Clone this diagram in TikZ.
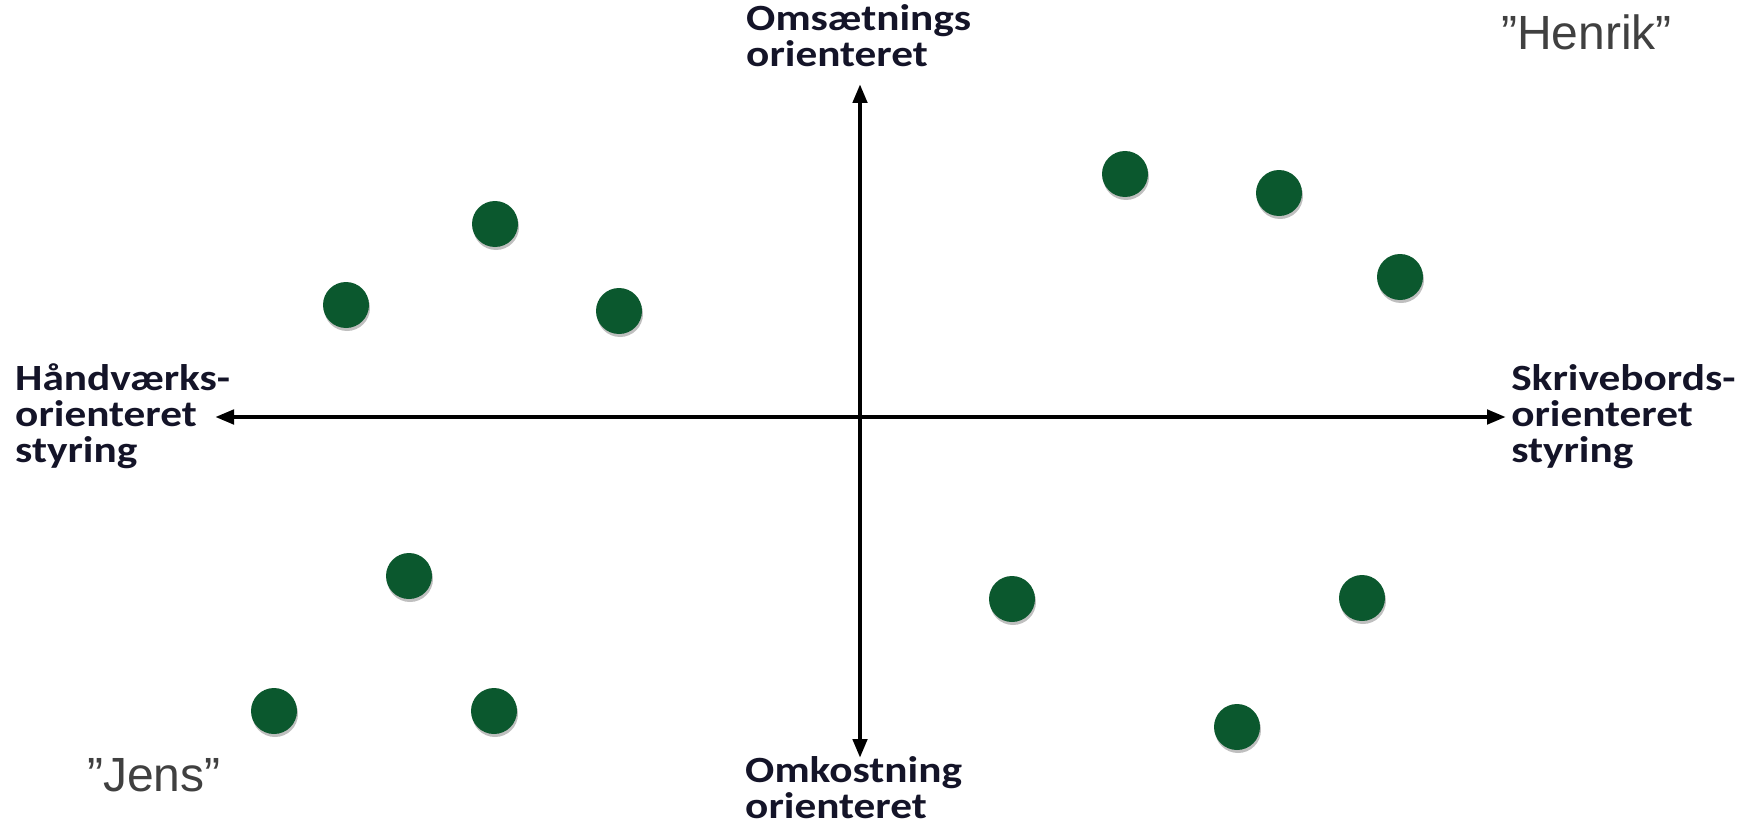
\documentclass[tikz,border=0pt]{standalone}
\usepackage{fontspec}
\setmainfont{Carlito}
\newfontfamily\arialfont{Liberation Sans}
\usetikzlibrary{arrows.meta,shadows}
\definecolor{dotgreen}{RGB}{11,88,46}
\definecolor{labelink}{RGB}{20,20,40}
\definecolor{quotegray}{RGB}{64,64,64}
\begin{document}
\begin{tikzpicture}[x=1pt,y=-1pt,
  axis/.style={line width=4.5pt, -{Triangle[width=14pt,length=19pt]}},
  dotnode/.style={circle, fill=dotgreen, minimum size=46pt, inner sep=0pt,
     drop shadow={shadow xshift=1pt, shadow yshift=-3pt, opacity=0.25, fill=black}},
  axlabel/.style={inner sep=0pt, align=left, text=labelink,
     font=\fontsize{37}{36}\selectfont\bfseries, xscale=1.17},
  quote/.style={inner sep=0pt, text=quotegray, font=\arialfont\fontsize{48}{52}\selectfont}]
\useasboundingbox[fill=white] (0,0) rectangle (1756,824);
\coordinate (c) at (860,417);
\coordinate (top) at (860,84);
\coordinate (bot) at (860,758);
\coordinate (lft) at (215,417);
\coordinate (rgt) at (1506,417);
\draw[axis] (c) -- (top);
\draw[axis] (c) -- (bot);
\draw[axis] (c) -- (lft);
\draw[axis] (c) -- (rgt);
\node[axlabel, anchor=base west] (ltop) at (746,67) {Omsætnings\\orienteret};
\node[axlabel, anchor=base west] (lbot) at (745,818) {Omkostning\\orienteret};
\node[axlabel, anchor=base west] (lleft) at (15,462) {Håndværks-\\orienteret\\styring};
\node[axlabel, anchor=base west] (lright) at (1511,462) {Skrivebords-\\orienteret\\styring};
\node[quote, anchor=base west] (henrik) at (1501,50) {”Henrik”};
\node[quote, anchor=base west] (jens) at (87,791) {”Jens”};
\node[dotnode] (d1) at (495,224) {};
\node[dotnode] (d2) at (346,305) {};
\node[dotnode] (d3) at (619,311) {};
\node[dotnode] (d4) at (1125,174) {};
\node[dotnode] (d5) at (1279,193) {};
\node[dotnode] (d6) at (1400,277) {};
\node[dotnode] (d7) at (409,576) {};
\node[dotnode] (d8) at (274,711) {};
\node[dotnode] (d9) at (494,711) {};
\node[dotnode] (d10) at (1012,599) {};
\node[dotnode] (d11) at (1362,598) {};
\node[dotnode] (d12) at (1237,727) {};
\end{tikzpicture}
\end{document}
